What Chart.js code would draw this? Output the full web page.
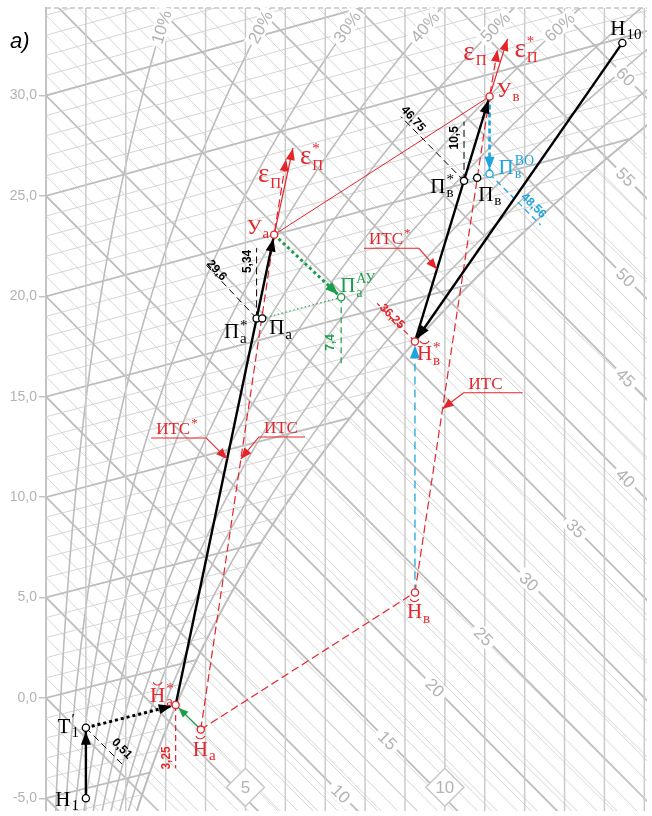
<!DOCTYPE html>
<html>
<head>
<meta charset="utf-8">
<script src="https://cdn.jsdelivr.net/npm/chart.js@4.4.1/dist/chart.umd.min.js"></script>
<style>
  body { margin: 0; background: #fff; }
  #wrap { width: 652px; height: 816px; position: relative; }
</style>
</head>
<body>
<div id="wrap"><canvas id="idChart"></canvas></div>
<script>
// ---- axis / grid levels ----
const yTicks = [-5, 0, 5, 10, 15, 20, 25, 30];
const dGrid = [1, 2, 3, 4, 5, 6, 7, 8, 9, 10, 11, 12, 13, 14, 15];
const dDiamonds = [5, 10];
const rhGrid = [10, 20, 30, 40, 50, 60, 70, 80, 90, 100];
const rhLabels = [10, 20, 30, 40, 50, 60];
const enthalpyLabels = [10, 15, 20, 25, 30, 35, 40, 45, 50, 55, 60];

// ---- process points: [d g/kg, ordinate] ----
const H1   = [1.0, -5.0];
const T1p  = [1.0, -1.49];
const HaS  = [3.25, -0.35];
const Ha   = [3.88, -1.58];
const PaS  = [5.28, 18.9];
const Pa   = [5.42, 18.9];
const Ua   = [5.72, 23.07];
const PaAU = [7.4, 19.95];
const Hv   = [9.25, 5.25];
const HvS  = [9.25, 17.75];
const PvS  = [10.48, 25.75];
const Pv   = [10.81, 25.9];
const Uv   = [11.12, 29.95];
const PvVO = [11.12, 26.1];
const H10  = [14.45, 32.62];
// ray tips (heat-moisture ratio)
const epsUa  = [6.02, 26.83];
const epsUaS = [6.19, 27.38];
const epsUv  = [11.32, 32.28];
const epsUvS = [11.57, 32.82];
// dimension line ends
const dim051 = [1.97, -3.43];
const dim296 = [4.0, 21.6];
const dim534 = [5.28, 22.4];
const dim4675 = [8.9, 28.95];
const dim105 = [10.48, 28.7];
const dim4856 = [12.4, 23.55];
const dim74 = [7.4, 16.6];
const dim325 = [3.25, -3.5];
const dim3625 = [8.3, 19.65];

const X_MIN = 0, X_MAX = 15.07, Y_MIN = -5.64, Y_MAX = 34.36;
const SKEW = 2.0;      // ordinate drop per g/kg along a line of constant enthalpy
const P_ATM = 101.325;

const SERIF = '"Liberation Serif", "Times New Roman", serif';
const SANS = '"Liberation Sans", Arial, sans-serif';
const RED = '#e4252b', GREEN = '#1b9e48', BLUE = '#1ea5e0', INK = '#000';
const GRID_THIN = '#d0d0d0', GRID_THICK = '#bdbdbd', GRID_TEXT = '#b3b3b3';

function pSat(t) { return 0.6112 * Math.exp(17.62 * t / (243.12 + t)); }
function dAt(t, phi) { const pv = phi * pSat(t); return 622 * pv / (P_ATM - pv); }
function ordinate(t, d) { return t + d * (2.5 + 0.0018 * t) - SKEW * d; }

const xy = p => ({ x: p[0], y: p[1] });
function seg(points, style) {
  return Object.assign({ data: points.map(xy), showLine: true, pointRadius: 0, pointHoverRadius: 0, fill: false, order: 2, borderWidth: 1.2 }, style);
}
function markers(points, color) {
  return { data: points.map(xy), showLine: false, pointRadius: 3.6, pointHoverRadius: 3.6,
    pointBackgroundColor: '#fff', pointBorderColor: color, pointBorderWidth: 1.3, order: 0 };
}

function arrowHead(ctx, x0, y0, x1, y1, len, half, back, color) {
  const a = Math.atan2(y1 - y0, x1 - x0);
  ctx.save();
  ctx.translate(x1 - back * Math.cos(a), y1 - back * Math.sin(a));
  ctx.rotate(a);
  ctx.beginPath();
  ctx.moveTo(0, 0); ctx.lineTo(-len, half); ctx.lineTo(-len, -half); ctx.closePath();
  ctx.fillStyle = color; ctx.fill();
  ctx.restore();
}

function drawTag(ctx, x, y, tag) {
  const size = tag.size || 21, small = tag.small || 15;
  ctx.save();
  ctx.fillStyle = tag.color; ctx.textAlign = 'left'; ctx.textBaseline = 'alphabetic';
  ctx.font = size + 'px ' + SERIF;
  const wm = ctx.measureText(tag.main).width;
  ctx.font = small + 'px ' + SERIF;
  const ws = Math.max(tag.sup ? ctx.measureText(tag.sup).width : 0, tag.sub ? ctx.measureText(tag.sub).width : 0);
  const total = wm + ws + 1;
  const x0 = tag.align === 'right' ? x - total : (tag.align === 'center' ? x - total / 2 : x);
  ctx.font = size + 'px ' + SERIF;
  ctx.fillText(tag.main, x0, y);
  ctx.font = small + 'px ' + SERIF;
  if (tag.sup) ctx.fillText(tag.sup, x0 + wm + 1, y - size * 0.42);
  if (tag.sub) ctx.fillText(tag.sub, x0 + wm + 1, y + size * 0.2);
  if (tag.breve) {
    ctx.strokeStyle = tag.color; ctx.lineWidth = 1.1;
    const cy = y - size * 0.66 - 8;
    ctx.beginPath(); ctx.arc(x0 + wm / 2, cy, 5, 0.15 * Math.PI, 0.85 * Math.PI); ctx.stroke();
  }
  ctx.restore();
}

// background psychrometric grid
const gridPlugin = {
  id: 'psyGrid',
  beforeDatasetsDraw(chart) {
    const { ctx, chartArea: a, scales: { x, y } } = chart;
    const X = v => x.getPixelForValue(v), Y = v => y.getPixelForValue(v);
    const stroke = (pts, w, col) => {
      ctx.beginPath();
      pts.forEach((p, k) => k ? ctx.lineTo(X(p[0]), Y(p[1])) : ctx.moveTo(X(p[0]), Y(p[1])));
      ctx.lineWidth = w; ctx.strokeStyle = col; ctx.stroke();
    };
    ctx.save();
    ctx.beginPath(); ctx.rect(a.left, a.top, a.right - a.left, a.bottom - a.top); ctx.clip();
    // constant enthalpy
    for (let i = -6; i <= 66; i++) {
      const thick = i % 5 === 0;
      stroke([[0, i], [16, i - SKEW * 16]], thick ? 1.8 : 0.9, thick ? GRID_THICK : GRID_THIN);
    }
    // isotherms: unsaturated part and fog part
    for (let t = -7; t <= 35; t++) {
      const thick = t % 5 === 0, ds = dAt(t, 1), ys = ordinate(t, ds);
      const w = thick ? 1.8 : 0.9, c = thick ? GRID_THICK : GRID_THIN;
      stroke([[0, ordinate(t, 0)], [ds, ys]], w, c);
      const k = -SKEW + 0.00419 * t;
      stroke([[ds, ys], [16, ys + k * (16 - ds)]], 0.9, GRID_THIN);
    }
    rhGrid.forEach(phi => {
      const pts = [];
      for (let t = -30; t <= 45; t += 0.25) { const d = dAt(t, phi / 100); pts.push([d, ordinate(t, d)]); }
      stroke(pts, phi === 100 ? 2 : 1.6, GRID_THICK);
    });
    dGrid.forEach(d => stroke([[d, Y_MIN - 1], [d, Y_MAX + 1]], 1.5, '#cbcbcb'));
    ctx.restore();

    // top dashed border
    ctx.save();
    ctx.strokeStyle = '#c8c8c8'; ctx.lineWidth = 1.5; ctx.setLineDash([5, 3]);
    ctx.beginPath(); ctx.moveTo(a.left, a.top); ctx.lineTo(a.right, a.top); ctx.stroke();
    ctx.restore();

    // enthalpy labels
    const labD = [7.39, 8.56, 9.75, 10.97, 12.11, 13.28, 14.53, 14.53, 14.53, 14.53, 14.53];
    ctx.save();
    ctx.font = '17px ' + SANS; ctx.textAlign = 'center'; ctx.textBaseline = 'middle';
    enthalpyLabels.forEach((i, k) => {
      const d = labD[k], px = X(d), py = Y(i - SKEW * d);
      const ang = Math.atan2(Y(i - SKEW * (d + 1)) - py, X(d + 1) - px);
      ctx.save(); ctx.translate(px, py); ctx.rotate(ang);
      const w = ctx.measureText(String(i)).width + 8;
      ctx.fillStyle = '#fff'; ctx.fillRect(-w / 2, -8, w, 16);
      ctx.fillStyle = GRID_TEXT; ctx.fillText(String(i), 0, 1);
      ctx.restore();
    });
    // relative humidity labels near the top edge
    rhLabels.forEach(phi => {
      let lo = -20, hi = 45;
      for (let n = 0; n < 50; n++) {
        const m = (lo + hi) / 2;
        if (ordinate(m, dAt(m, phi / 100)) > Y_MAX - 0.95) hi = m; else lo = m;
      }
      const t = lo, d = dAt(t, phi / 100), d2 = dAt(t + 0.5, phi / 100);
      const px = X(d), py = Y(ordinate(t, d));
      const ang = Math.atan2(Y(ordinate(t + 0.5, d2)) - py, X(d2) - px);
      ctx.save(); ctx.translate(px, py); ctx.rotate(ang);
      const txt = phi + '%', w = ctx.measureText(txt).width + 6;
      ctx.fillStyle = '#fff'; ctx.fillRect(-w / 2, -8, w, 16);
      ctx.fillStyle = GRID_TEXT; ctx.fillText(txt, 0, 1);
      ctx.restore();
    });
    // moisture content diamonds
    dDiamonds.forEach(d => {
      const px = X(d), py = Y(-4.45), r = 19;
      ctx.beginPath(); ctx.moveTo(px, py - r); ctx.lineTo(px + r, py); ctx.lineTo(px, py + r); ctx.lineTo(px - r, py); ctx.closePath();
      ctx.fillStyle = '#fff'; ctx.fill(); ctx.strokeStyle = '#c8c8c8'; ctx.lineWidth = 1.5; ctx.stroke();
      ctx.fillStyle = GRID_TEXT; ctx.fillText(String(d), px, py + 1);
    });
    ctx.restore();
  },
  afterDatasetsDraw(chart) {
    const { ctx, scales: { x, y } } = chart;
    const X = v => x.getPixelForValue(v), Y = v => y.getPixelForValue(v);
    const P = p => [X(p[0]), Y(p[1])];
    // arrow heads at dataset ends
    chart.data.datasets.forEach((ds, i) => {
      if (!ds.arrow) return;
      const pts = chart.getDatasetMeta(i).data, n = pts.length;
      arrowHead(ctx, pts[n - 2].x, pts[n - 2].y, pts[n - 1].x, pts[n - 1].y,
        ds.arrow.len || 13, ds.arrow.half || 5, ds.arrow.back || 0, ds.arrow.color || ds.borderColor);
    });
    // point names
    const tags = [
      [H1, -7, 8, { main: 'Н', sub: '1', align: 'right', color: INK }],
      [T1p, -7, 5, { main: 'Т', sup: '′', sub: '1', align: 'right', color: INK }],
      [HaS, -2, -3, { main: 'Н', sup: '*', sub: 'а', align: 'right', color: RED, breve: true }],
      [Ha, -8, 26, { main: 'Н', sub: 'а', color: RED, breve: true }],
      [PaS, -9, 20, { main: 'П', sup: '*', sub: 'а', align: 'right', color: INK }],
      [Pa, 7, 16, { main: 'П', sub: 'а', color: INK }],
      [Ua, -5, -1, { main: 'У', sub: 'а', align: 'right', color: RED }],
      [PaAU, -1, -5, { main: 'П', sup: 'АУ', sub: 'а', color: GREEN, small: 14 }],
      [Hv, -8, 26, { main: 'Н', sub: 'в', color: RED, breve: true }],
      [HvS, 2, 19, { main: 'Н', sup: '*', sub: 'в', color: RED, breve: true }],
      [PvS, -10, 12, { main: 'П', sup: '*', sub: 'в', align: 'right', color: INK }],
      [Pv, 1, 23, { main: 'П', sub: 'в', color: INK }],
      [Uv, 7, 0, { main: 'У', sub: 'в', color: RED }],
      [PvVO, 9, 0, { main: 'П', sup: 'ВО', sub: 'в', color: BLUE, small: 14 }],
      [H10, -12, -8, { main: 'Н', sub: '10', color: INK }],
      [epsUa, -5, 23, { main: 'ε', sub: 'П', align: 'right', color: RED, size: 27 }],
      [epsUaS, 7, 16, { main: 'ε', sup: '*', sub: 'П', color: RED, size: 27 }],
      [epsUv, -11, 10, { main: 'ε', sub: 'П', align: 'right', color: RED, size: 27 }],
      [epsUvS, 7, 18, { main: 'ε', sup: '*', sub: 'П', color: RED, size: 27 }]
    ];
    tags.forEach(([p, dx, dy, tag]) => { const [px, py] = P(p); drawTag(ctx, px + dx, py + dy, tag); });

    // dimension values
    const dims = [
      [T1p, 36, 21, 45, '0,51', INK], [PaS, -40, -48, 48, '29,6', INK], [PaS, -9, -57, -90, '5,34', INK],
      [PvS, -51, -62, 48, '46,75', INK], [PvS, -9, -43, -90, '10,5', INK], [PvVO, 44, 32, 45, '48,56', BLUE],
      [PaAU, -10, 45, -90, '7,4', GREEN], [HaS, -9, 53, -90, '3,25', RED], [HvS, -23, -25, 45, '36,25', RED]
    ];
    ctx.save();
    ctx.font = 'bold 12px ' + SANS; ctx.textAlign = 'center'; ctx.textBaseline = 'middle';
    dims.forEach(([p, dx, dy, ang, txt, col]) => {
      const [px, py] = P(p);
      ctx.save(); ctx.translate(px + dx, py + dy); ctx.rotate(ang * Math.PI / 180);
      ctx.fillStyle = col; ctx.fillText(txt, 0, 0); ctx.restore();
    });
    ctx.restore();

    // ИТС call-outs: [segment start, segment end, tip ordinate, underline start dx, underline end dx, underline dy, text, star]
    const callouts = [
      [HaS, Ua, 11.9, -76, -21, -21, 'ИТС', '*'],
      [Ha, Ua, 11.9, 64, 18, -22, 'ИТС', ''],
      [HvS, Uv, 21.35, -73, -18, -21, 'ИТС', '*'],
      [Hv, Uv, 14.4, 80, 21, -16, 'ИТС', '']
    ];
    callouts.forEach(([A, B, yTip, u0, u1, uy, txt, star]) => {
      const f = (yTip - A[1]) / (B[1] - A[1]);
      const tx = X(A[0] + f * (B[0] - A[0])), ty = Y(yTip);
      const ex = tx + u1, ey = ty + uy, sx = tx + u0;
      ctx.save();
      ctx.strokeStyle = RED; ctx.lineWidth = 1.1;
      ctx.beginPath(); ctx.moveTo(sx, ey); ctx.lineTo(ex, ey); ctx.lineTo(tx, ty); ctx.stroke();
      arrowHead(ctx, ex, ey, tx, ty, 11, 4.5, 0, RED);
      const left = Math.min(sx, ex) + 5;
      drawTag(ctx, left, ey - 4, { main: txt, sup: star, color: RED, size: 17, small: 13 });
      ctx.restore();
    });

    // panel letter
    ctx.save();
    ctx.font = 'italic 22px ' + SANS; ctx.fillStyle = INK; ctx.textBaseline = 'alphabetic';
    ctx.fillText('а)', 10, 48);
    ctx.restore();
  }
};

const datasets = [
  markers([H1, T1p, PaS, Pa, PvS, Pv, H10], INK),
  markers([HaS, Ha, Ua, Hv, HvS, Uv], RED),
  markers([PaAU], GREEN),
  markers([PvVO], BLUE),
  // main process lines
  seg([H1, T1p], { borderColor: INK, borderWidth: 2.4, arrow: { back: 4 } }),
  seg([T1p, HaS], { borderColor: INK, borderWidth: 3, borderDash: [3, 3], arrow: { back: 4 } }),
  seg([HaS, Ua], { borderColor: INK, borderWidth: 2.4, arrow: { back: 4 } }),
  seg([H10, HvS], { borderColor: INK, borderWidth: 2.4, arrow: { back: 4 } }),
  seg([HvS, Uv], { borderColor: INK, borderWidth: 2.4, arrow: { back: 4 } }),
  // red construction lines
  seg([Ha, Ua, epsUa], { borderColor: RED, borderDash: [8, 4], arrow: { len: 12, half: 4.5 } }),
  seg([Ua, epsUaS], { borderColor: RED, arrow: { len: 12, half: 4.5 } }),
  seg([Ha, Hv], { borderColor: RED, borderDash: [8, 4] }),
  seg([Hv, Uv, epsUv], { borderColor: RED, borderDash: [8, 4], arrow: { len: 12, half: 4.5 } }),
  seg([Uv, epsUvS], { borderColor: RED, arrow: { len: 12, half: 4.5 } }),
  seg([Ua, Uv], { borderColor: RED, borderWidth: 1 }),
  seg([HaS, dim325], { borderColor: RED, borderDash: [6, 4] }),
  seg([HvS, dim3625], { borderColor: RED, borderDash: [6, 4] }),
  // green
  seg([Ha, HaS], { borderColor: GREEN, borderWidth: 1.3, arrow: { back: 4, len: 10, half: 4 } }),
  seg([Ua, PaAU], { borderColor: GREEN, borderWidth: 3, borderDash: [3, 3], arrow: { back: 4 } }),
  seg([Pa, PaAU], { borderColor: GREEN, borderWidth: 1, borderDash: [1.5, 2.5] }),
  seg([PaAU, dim74], { borderColor: GREEN, borderDash: [6, 4] }),
  // blue
  seg([Hv, HvS], { borderColor: BLUE, borderWidth: 1.3, borderDash: [8, 5], arrow: { back: 4 } }),
  seg([Uv, PvVO], { borderColor: BLUE, borderWidth: 2.6, borderDash: [5, 3], arrow: { back: 4 } }),
  seg([PvS, PvVO], { borderColor: BLUE, borderWidth: 1, borderDash: [1.5, 2.5] }),
  seg([PvVO, dim4856], { borderColor: BLUE, borderWidth: 1.3, borderDash: [6, 4] }),
  // black dimension lines
  seg([T1p, dim051], { borderColor: INK, borderWidth: 1, borderDash: [7, 4] }),
  seg([PaS, dim296], { borderColor: INK, borderWidth: 1, borderDash: [7, 4] }),
  seg([PaS, dim534], { borderColor: INK, borderWidth: 1, borderDash: [7, 4] }),
  seg([PvS, dim4675], { borderColor: INK, borderWidth: 1, borderDash: [7, 4] }),
  seg([PvS, dim105], { borderColor: INK, borderWidth: 1, borderDash: [7, 4] })
];

new Chart(document.getElementById('idChart').getContext('2d'), {
  type: 'scatter',
  data: { datasets },
  options: {
    responsive: true,
    maintainAspectRatio: false,
    animation: false,
    events: [],
    layout: { padding: { top: 8, left: 0, right: 0, bottom: 0 } },
    plugins: { legend: { display: false }, tooltip: { enabled: false } },
    elements: { line: { tension: 0 } },
    scales: {
      x: { type: 'linear', min: X_MIN, max: X_MAX, display: false },
      y: {
        type: 'linear', min: Y_MIN, max: Y_MAX,
        afterBuildTicks: s => { s.ticks = yTicks.map(v => ({ value: v })); },
        afterFit: s => { s.width = 46; s.paddingTop = 0; s.paddingBottom = 0; },
        ticks: { color: GRID_TEXT, font: { family: SANS, size: 14 }, padding: 2,
          callback: v => v.toFixed(1).replace('.', ',') },
        grid: { drawOnChartArea: false, drawTicks: true, tickLength: 7, color: '#c4c4c4', lineWidth: 1.5 },
        border: { display: true, color: '#c4c4c4', width: 2 }
      }
    }
  },
  plugins: [gridPlugin]
});
</script>
</body>
</html>
